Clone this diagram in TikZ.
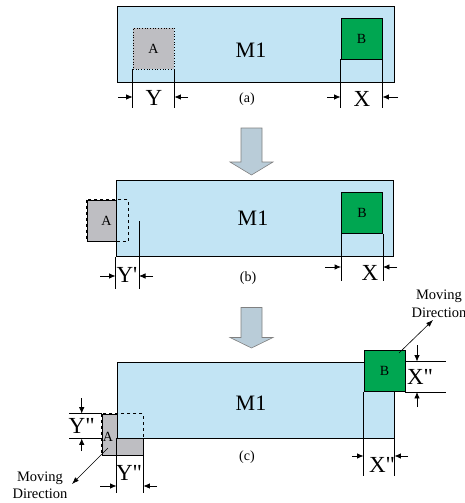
\documentclass[tikz,border=0pt]{standalone}
\usepackage{fontspec}
\setmainfont{Liberation Serif}
\usetikzlibrary{arrows.meta,positioning,calc}
\definecolor{MoldBlue}{RGB}{194,228,244}
\definecolor{ChipGray}{RGB}{190,190,194}
\definecolor{ChipGreen}{RGB}{0,166,81}
\definecolor{FlowBlue}{RGB}{185,204,216}
\tikzset{
  mold/.style={draw=black,fill=MoldBlue,line width=0.8pt,inner sep=0pt,
    minimum width=277pt,minimum height=76pt},
  chipA/.style={draw=black,fill=ChipGray,line width=0.7pt,inner sep=0pt,
    minimum width=41pt,minimum height=41pt,font=\fontsize{14}{16}\selectfont},
  chipB/.style={draw=black,fill=ChipGreen,line width=0.8pt,inner sep=0pt,
    minimum width=41pt,minimum height=41pt,font=\fontsize{14}{16}\selectfont},
  moldname/.style={inner sep=0pt,font=\fontsize{22}{24}\selectfont},
  dimname/.style={inner sep=0pt,font=\fontsize{23}{26}\selectfont},
  caption/.style={inner sep=0pt,font=\fontsize{14}{16}\selectfont},
  note/.style={inner sep=0pt,align=center,font=\fontsize{14.5}{17.5}\selectfont},
  guide/.style={line width=0.6pt},
  dimarrow/.style={-{Latex[length=6.5pt,width=5.5pt]},line width=0.8pt},
  movearrow/.style={-{Latex[length=7pt,width=5pt]},line width=0.6pt},
  flowarrow/.style={draw=gray,fill=FlowBlue,line width=0.6pt}
}

\begin{document}
\begin{tikzpicture}[x=1pt,y=-1pt]
\useasboundingbox (0,0) rectangle (465,503);

% (a)
\node[mold] (Ma) at (255.5,44) {};
\node[moldname] at (251,50) {M1};
\node[chipA,dotted] (Aa) at (153.5,48.5) {A};
\node[chipB] (Ba) at (361.5,38.5) {B};
\coordinate (dimA) at (0,97);
\coordinate (endA) at (0,108);
\draw[guide] (Aa.south west) -- (Aa.south west |- endA);
\draw[guide] (Aa.south east) -- (Aa.south east |- endA);
\draw[guide] (Ba.south west) -- (Ba.south west |- endA);
\draw[guide] (Ba.south east) -- (Ba.south east |- endA);
\draw[dimarrow] (118,97) -- (Aa.south west |- dimA);
\draw[dimarrow] (188,97) -- (Aa.south east |- dimA);
\draw[dimarrow] (327,97) -- (Ba.south west |- dimA);
\draw[dimarrow] (398,97) -- (Ba.south east |- dimA);
\node[dimname] at (154,98) {Y};
\node[dimname] at (362,99) {X};
\node[caption] (capA) at (247,99) {(a)};

\draw[flowarrow] (241,128) -- (262,128) -- (262,162) -- (273,162)
  -- (251.5,175) -- (230,162) -- (241,162) -- cycle;

% (b)
\node[chipA] (Ab) at (107.5,220.5) {};
\node[mold] (Mb) at (254.5,218.5) {};
\draw[dashed,line width=0.7pt] (Ab.north west) rectangle (Ab.south east);
\node[caption] at (106.5,221) {A};
\node[moldname] at (253,218) {M1};
\node[chipB] (Bb) at (362,213) {B};
\coordinate (dimB) at (0,276);
\coordinate (dimBx) at (0,267);
\coordinate (endB) at (0,289);
\coordinate (endBx) at (0,281);
\coordinate (shiftB) at (139,221);
\draw[guide] (Mb.south west) -- (Mb.south west |- endB);
\draw[guide] (shiftB) -- (shiftB |- endB);
\draw[guide] (Bb.south west) -- (Bb.south west |- endBx);
\draw[guide] (Bb.south east) -- (Bb.south east |- endBx);
\draw[dimarrow] (100,276) -- (Mb.south west |- dimB);
\draw[dimarrow] (153,276) -- (shiftB |- dimB);
\draw[dimarrow] (325,267) -- (Bb.south west |- dimBx);
\draw[dimarrow] (397,267) -- (Bb.south east |- dimBx);
\node[dimname] at (127,275) {Y\textquotesingle};
\node[dimname] at (370,273) {X};
\node[caption] (capB) at (248,278) {(b)};

\draw[flowarrow] (241,307.5) -- (262,307.5) -- (262,337.5) -- (273,337.5)
  -- (251.5,348) -- (230,337.5) -- (241,337.5) -- cycle;

% (c)
\node[chipA] (Ac) at (122.5,434.5) {};
\node[mold] (Mc) at (255.5,400) {};
\draw[dashed,line width=0.7pt] (Ac.north west) rectangle (Ac.south east);
\node[caption] at (108,437) {A};
\node[moldname] at (251,403) {M1};
\node[chipB] (Bc) at (384.5,371) {B};
\coordinate (dimC) at (0,486);
\coordinate (endC) at (0,493);
\coordinate (sideC) at (69,0);
\coordinate (arrC) at (81.7,0);
\draw[guide] (Mc.south west) -- (Mc.south west |- endC);
\draw[guide] (Ac.south east) -- (Ac.south east |- endC);
\draw[guide] (Ac.north west) -- (Ac.north west -| sideC);
\draw[guide] (Ac.west |- Mc.south) -- (sideC |- Mc.south);
\draw[dimarrow] (100,486) -- (Mc.south west |- dimC);
\draw[dimarrow] (157,486) -- (Ac.south east |- dimC);
\draw[dimarrow] (81.7,398) -- (arrC |- Ac.north);
\draw[dimarrow] (81.7,451) -- (arrC |- Mc.south);
\node[dimname] at (129,473) {Y\textquotedbl};
\node[dimname] at (81.7,426) {Y\textquotedbl};
\coordinate (moveA) at (108,448);
\coordinate (tipA) at (72,484);
\draw[movearrow] (moveA) -- (tipA);
\node[note] at (40,485.5) {Moving\\Direction};

\coordinate (sideCx) at (446,0);
\coordinate (arrCx) at (417,0);
\coordinate (endCx) at (0,476);
\coordinate (dimCx) at (0,456);
\draw[guide] (Bc.east |- Mc.north) -- (sideCx |- Mc.north);
\draw[guide] (Bc.south east) -- (sideCx |- Bc.south);
\draw[guide] (Bc.south west) -- (Bc.south west |- endCx);
\draw[guide] (Mc.south east) -- (Mc.south east |- endCx);
\draw[dimarrow] (417,345) -- (arrCx |- Mc.north);
\draw[dimarrow] (417,407) -- (arrCx |- Bc.south);
\draw[dimarrow] (352,456) -- (Bc.south west |- dimCx);
\draw[dimarrow] (408,456) -- (Mc.south east |- dimCx);
\node[dimname] at (420,377) {X\textquotedbl};
\node[dimname] at (382,465) {X\textquotedbl};
\coordinate (moveB) at (399,353);
\coordinate (tipB) at (433,320);
\draw[movearrow] (moveB) -- (tipB);
\node[note] at (439,304) {Moving\\Direction};
\node[caption] (capC) at (247,457) {(c)};

\end{tikzpicture}
\end{document}
